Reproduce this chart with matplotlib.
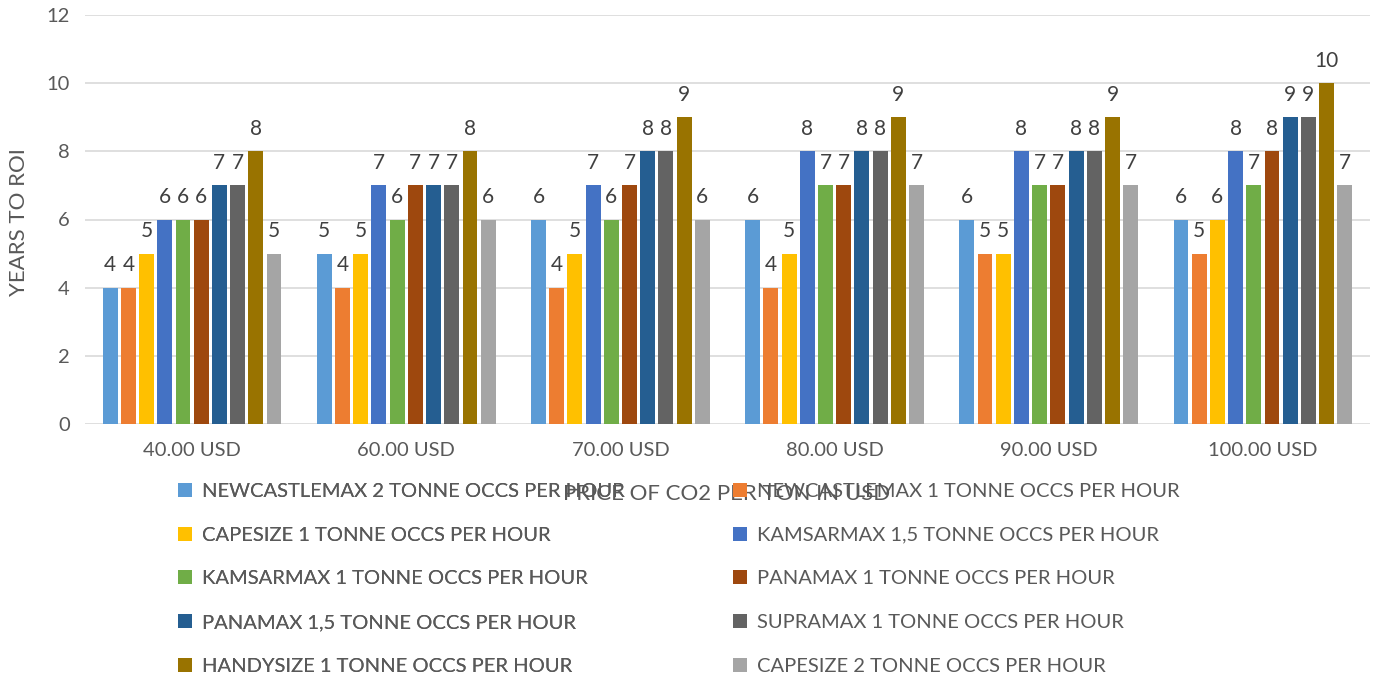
import matplotlib
matplotlib.use("Agg")
import matplotlib.pyplot as plt
import numpy as np
from matplotlib.patches import Patch

plt.rcParams['font.family'] = ['Lato', 'DejaVu Sans']

categories = ["40.00 USD", "60.00 USD", "70.00 USD", "80.00 USD", "90.00 USD", "100.00 USD"]
series_names = [
    "NEWCASTLEMAX 2 TONNE OCCS PER HOUR",
    "NEWCASTLEMAX 1 TONNE OCCS PER HOUR",
    "CAPESIZE 1 TONNE OCCS PER HOUR",
    "KAMSARMAX 1,5 TONNE OCCS PER HOUR",
    "KAMSARMAX 1 TONNE OCCS PER HOUR",
    "PANAMAX 1 TONNE OCCS PER HOUR",
    "PANAMAX 1,5 TONNE OCCS PER HOUR",
    "SUPRAMAX 1 TONNE OCCS PER HOUR",
    "HANDYSIZE 1 TONNE OCCS PER HOUR",
    "CAPESIZE 2 TONNE OCCS PER HOUR",
]
newcastlemax_2 = [4, 5, 6, 6, 6, 6]
newcastlemax_1 = [4, 4, 4, 4, 5, 5]
capesize_1 = [5, 5, 5, 5, 5, 6]
kamsarmax_15 = [6, 7, 7, 8, 8, 8]
kamsarmax_1 = [6, 6, 6, 7, 7, 7]
panamax_1 = [6, 7, 7, 7, 7, 8]
panamax_15 = [7, 7, 8, 8, 8, 9]
supramax_1 = [7, 7, 8, 8, 8, 9]
handysize_1 = [8, 8, 9, 9, 9, 10]
capesize_2 = [5, 6, 6, 7, 7, 7]
series_values = [newcastlemax_2, newcastlemax_1, capesize_1, kamsarmax_15, kamsarmax_1,
                 panamax_1, panamax_15, supramax_1, handysize_1, capesize_2]
colors = ["#5B9BD5", "#ED7D31", "#FFC000", "#4472C4", "#70AD47",
          "#9E480E", "#255E91", "#636363", "#997300", "#A5A5A5"]

W, H = 1378, 682
fig = plt.figure(figsize=(W / 100, H / 100), dpi=100)
ax = fig.add_axes([85 / W, 1 - 424 / H, (1370 - 85) / W, (424 - 15) / H])

text_color = "#595959"
n = len(series_values)
x = np.arange(len(categories))
group = 0.85
step = group / n
bw = step * 0.82
for i, (vals, c) in enumerate(zip(series_values, colors)):
    pos = x - group / 2 + step * (i + 0.5)
    bars = ax.bar(pos, vals, width=bw, color=c, zorder=3)
    ax.bar_label(bars, labels=[str(v) for v in vals], padding=9, fontsize=15, color="#404040")

ax.set_xlim(-0.5, len(categories) - 0.5)
ax.set_ylim(0, 12)
ax.set_yticks(range(0, 13, 2))
ax.set_xticks(x)
ax.set_xticklabels(categories)
ax.tick_params(axis='both', length=0, labelsize=14.5, colors=text_color)
ax.tick_params(axis='x', pad=13)
ax.tick_params(axis='y', pad=11)
ax.grid(axis='y', color="#D9D9D9", linewidth=1.2, zorder=0)
for s in ax.spines.values():
    s.set_visible(False)

fig.text(19 / W, 1 - 222 / H, "YEARS TO ROI", rotation=90, ha='center', va='center',
         fontsize=16, color=text_color)
fig.text(727 / W, 1 - 494 / H, "PRICE OF CO2 PER TON IN USD", ha='center', va='center',
         fontsize=16, color=text_color)

handles = [Patch(facecolor=c) for c in colors]
left_idx = [0, 2, 4, 6, 8]
right_idx = [1, 3, 5, 7, 9]
common = dict(frameon=False, fontsize=14.5, handlelength=0.7, handleheight=0.7,
              handletextpad=0.5, labelspacing=1.32, labelcolor=text_color, borderaxespad=0, borderpad=0)
leg1 = fig.legend([handles[i] for i in left_idx], [series_names[i] for i in left_idx],
                  loc='upper left', bbox_to_anchor=(178 / W, 1 - 483 / H), **common)
fig.add_artist(leg1)
leg2 = fig.legend([handles[i] for i in right_idx], [series_names[i] for i in right_idx],
                  loc='upper left', bbox_to_anchor=(733 / W, 1 - 483 / H), **common)

fig.savefig("out.png", dpi=100)
